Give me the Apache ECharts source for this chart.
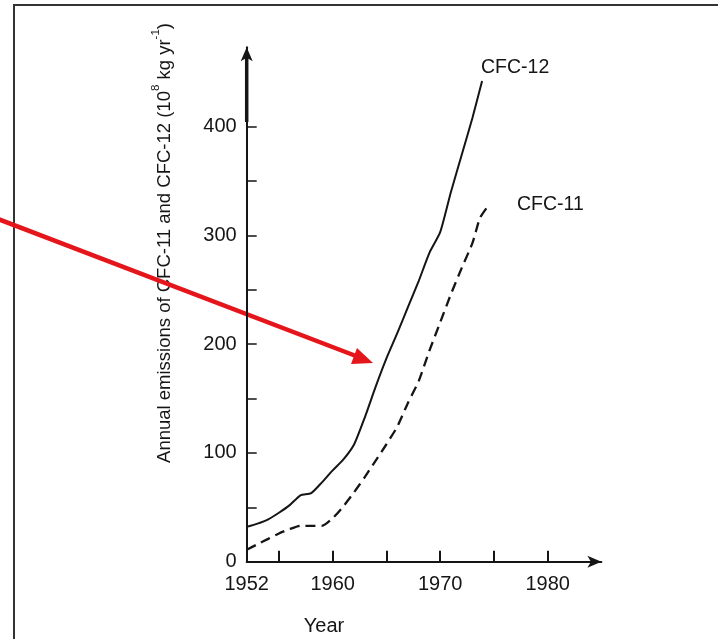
<!DOCTYPE html>
<html>
<head>
<meta charset="utf-8">
<script src="https://cdn.jsdelivr.net/npm/echarts@6/dist/echarts.min.js"></script>
<style>
html,body{margin:0;padding:0;background:#fff;}
#c{width:718px;height:639px;}
</style>
</head>
<body>
<div id="c"></div>
<script>
const cfc12Years  = [1952,1953,1954,1955,1956,1957,1958,1959,1960,1961,1962,1963,1964,1965,1966,1967,1968,1969,1970,1971,1972,1973,1973.9];
const cfc12Values = [32,35,39,45,52,61,63,73,84,94,108,133,161,187,210,234,258,284,303,340,374,408,442];
const cfc11Years  = [1952,1953,1954,1955,1956,1957,1958,1959,1960,1961,1962,1963,1964,1965,1966,1967,1968,1969,1970,1971,1972,1973,1973.7,1974.3];
const cfc11Values = [11,16,21,26,30,33,33,33,40,51,64,78,93,108,124,146,166,194,220,246,270,293,316,325];
const xTickValues  = [1955,1960,1965,1970,1975,1980];
const xLabelValues = [1952,1960,1970,1980];
const yTickValues  = [50,100,150,200,250,300,350,400];
const yLabelValues = [0,100,200,300,400];
const seriesNames = ['CFC-12','CFC-11'];
const xTitle = 'Year';

const FONT = 'Liberation Sans, Arial, sans-serif';
const INK = '#151515';

const chart = echarts.init(document.getElementById('c'), null, {renderer:'canvas'});
const zip = (xs, ys) => xs.map((x,i)=>[x, ys[i]]);

chart.setOption({
  animation: false,
  backgroundColor: '#fff',
  grid: {left: 246.7, right: 116.6, top: 47.3, bottom: 77.3},
  xAxis: {
    type: 'value', min: 1952, max: 1985,
    splitLine: {show:false},
    axisLine: {show:true, onZero:false, symbol:['none','arrow'], symbolSize:[9,14], lineStyle:{color:INK, width:2}},
    axisTick: {show:true, inside:true, length:11, customValues: xTickValues, lineStyle:{color:INK, width:2}},
    axisLabel: {customValues: xLabelValues, margin: 13, color: INK, fontSize: 20, fontFamily: FONT,
      formatter: v => String(v)}
  },
  yAxis: {
    type: 'value', min: 0, max: 473,
    splitLine: {show:false},
    axisLine: {show:true, onZero:false, symbol:['none','arrow'], symbolSize:[9,14], lineStyle:{color:INK, width:2}},
    axisTick: {show:true, inside:true, length:10, customValues: yTickValues, lineStyle:{color:INK, width:1.5}},
    axisLabel: {customValues: yLabelValues, margin: 10, color: INK, fontSize: 20, fontFamily: FONT,
      formatter: v => String(v)}
  },
  series: [
    {name: seriesNames[0], type:'line', data: zip(cfc12Years, cfc12Values), showSymbol:false, smooth:0.2,
     lineStyle:{color:INK, width:2}},
    {name: seriesNames[1], type:'line', data: zip(cfc11Years, cfc11Values), showSymbol:false, smooth:0.2,
     lineStyle:{color:INK, width:2.3, type:[10,6]}}
  ],
  graphic: [
    {type:'rect', shape:{x:14, y:5, width:800, height:700}, style:{fill:'none', stroke:'#333', lineWidth:2}, silent:true},
    {type:'line', shape:{x1:246.7, y1:56, x2:246.7, y2:122}, style:{stroke:INK, lineWidth:3.5}, silent:true},
    {type:'text', x:162, y:243, rotation:Math.PI/2,
      style:{
        text:'{n|Annual emissions of CFC-11 and CFC-12 (10}{s|8}{n| kg yr}{s|-1}{n|)}',
        align:'center', verticalAlign:'middle',
        rich:{
          n:{fontSize:18.5, fontFamily:FONT, fill:INK, lineHeight:24, verticalAlign:'bottom'},
          s:{fontSize:11.5, fontFamily:FONT, fill:INK, lineHeight:12, verticalAlign:'top'}
        }
      }},
    {type:'text', x:324, y:626, style:{text:xTitle, fontSize:20, fontFamily:FONT, fill:INK, align:'center', verticalAlign:'middle'}},
    {type:'text', x:481, y:68, style:{text:seriesNames[0], fontSize:19.5, fontFamily:FONT, fill:INK, align:'left', verticalAlign:'middle'}},
    {type:'text', x:517, y:205, style:{text:seriesNames[1], fontSize:19.5, fontFamily:FONT, fill:INK, align:'left', verticalAlign:'middle'}},
    {type:'line', shape:{x1:-2, y1:219, x2:356, y2:356}, style:{stroke:'#e5161b', lineWidth:4.5}, silent:true},
    {type:'polygon', shape:{points:[[373,363],[351,364],[357,348]]}, style:{fill:'#e5161b'}, silent:true}
  ]
});
</script>
</body>
</html>
